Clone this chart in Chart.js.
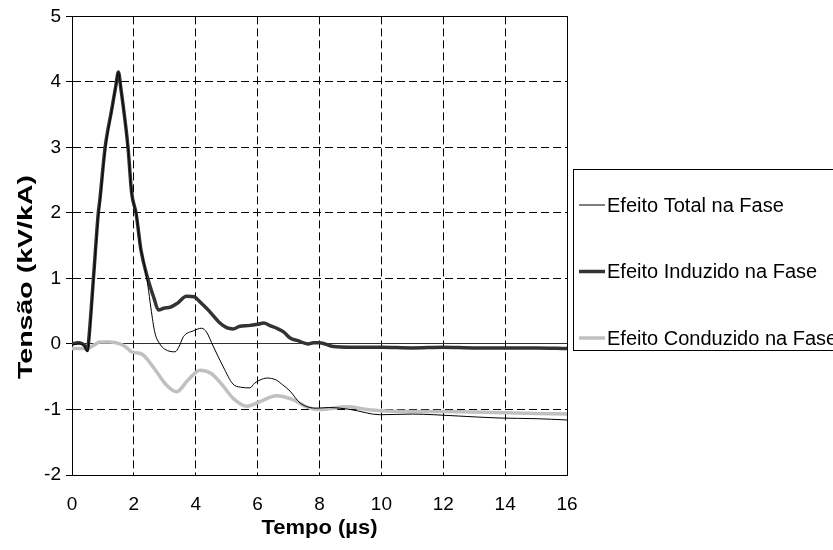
<!DOCTYPE html>
<html><head><meta charset="utf-8">
<script src="https://cdn.jsdelivr.net/npm/chart.js@4.4.0/dist/chart.umd.min.js"></script>
<style>html,body{margin:0;padding:0;background:#fff}#wrap{width:833px;height:550px}</style>
</head><body><div id="wrap"><canvas id="c" width="833" height="550"></canvas></div>
<script>
// ---- data ----
const seriesNames = ['Efeito Total na Fase', 'Efeito Induzido na Fase', 'Efeito Conduzido na Fase'];
const xTitle = 'Tempo (\u00b5s)';
const yTitle = 'Tens\u00e3o (kV/kA)';
const xTicks = [0, 2, 4, 6, 8, 10, 12, 14, 16];
const yTicks = [-2, -1, 0, 1, 2, 3, 4, 5];

const tInduzido = [0, 0.2, 0.4, 0.5, 0.53, 0.7, 0.85, 0.9, 1.07, 1.28, 1.42, 1.5, 1.58, 1.81, 1.93, 2.07, 2.23, 2.46, 2.65, 2.79, 3.0, 3.17, 3.4, 3.7, 3.95, 4.14, 4.4, 4.78, 5.0, 5.2, 5.43, 5.7, 6.0, 6.2, 6.4, 6.62, 6.85, 7.05, 7.3, 7.63, 7.8, 8.0, 8.45, 9, 10, 11, 12, 13, 14, 15, 16];
const vInduzido = [0, 0.02, -0.02, -0.1, 0, 1.05, 2.0, 2.2, 3.0, 3.57, 3.95, 4.15, 3.9, 3.0, 2.3, 2.0, 1.43, 0.98, 0.7, 0.52, 0.55, 0.56, 0.62, 0.73, 0.72, 0.64, 0.52, 0.32, 0.25, 0.23, 0.27, 0.28, 0.3, 0.32, 0.28, 0.24, 0.18, 0.09, 0.05, 0.0, 0.02, 0.02, -0.04, -0.05, -0.05, -0.06, -0.05, -0.06, -0.06, -0.06, -0.07];

const tTotal = [0, 0.2, 0.4, 0.5, 0.53, 0.7, 0.85, 0.9, 1.07, 1.28, 1.42, 1.5, 1.58, 1.81, 1.93, 2.07, 2.23, 2.3, 2.45, 2.55, 2.68, 2.84, 3.0, 3.33, 3.45, 3.6, 3.92, 4.19, 4.35, 4.56, 4.89, 5.2, 5.45, 5.75, 5.9, 6.08, 6.3, 6.6, 6.8, 7.05, 7.37, 7.9, 8.3, 9, 9.95, 11, 11.7, 12.5, 13.8, 15, 16];
const vTotal = [-0.02, 0.0, -0.03, -0.12, -0.05, 1.0, 1.95, 2.15, 2.95, 3.55, 3.95, 4.15, 3.9, 3.0, 2.3, 2.0, 1.43, 1.3, 0.9, 0.55, 0.17, 0.0, -0.08, -0.12, -0.05, 0.11, 0.2, 0.24, 0.18, -0.03, -0.35, -0.61, -0.66, -0.67, -0.6, -0.55, -0.52, -0.55, -0.62, -0.72, -0.9, -0.98, -0.97, -1.0, -1.08, -1.07, -1.08, -1.1, -1.13, -1.14, -1.16];

const tConduzido = [0, 0.5, 0.7, 0.9, 1.23, 1.55, 1.75, 1.93, 2.25, 2.62, 3.06, 3.38, 3.75, 4.14, 4.5, 4.85, 5.21, 5.65, 6.08, 6.6, 7.15, 7.58, 8.0, 8.88, 9.52, 9.95, 11, 12, 13, 14, 15, 16];
const vConduzido = [-0.07, -0.07, -0.02, 0.03, 0.03, 0.0, -0.05, -0.12, -0.15, -0.35, -0.63, -0.73, -0.55, -0.4, -0.45, -0.62, -0.83, -0.95, -0.88, -0.79, -0.85, -0.96, -1.0, -0.96, -1.0, -1.02, -1.03, -1.03, -1.04, -1.05, -1.06, -1.07];

// ---- build ----
const pts = (t, v) => t.map((x, i) => ({x: x, y: v[i]}));
const FONT = "'Liberation Sans', Arial, sans-serif";

function stretchedText(ctx, text, x, y, rot, targetWidth) {
  ctx.save();
  ctx.translate(x, y);
  ctx.rotate(rot);
  const w = ctx.measureText(text).width;
  ctx.scale(targetWidth / w, 1);
  ctx.fillText(text, 0, 0);
  ctx.restore();
}

const framePlugin = {
  id: 'frame',
  afterDraw(chart) {
    const ctx = chart.ctx, a = chart.chartArea;
    ctx.save();
    ctx.lineWidth = 1;
    ctx.strokeStyle = '#000';
    ctx.beginPath();
    ctx.moveTo(Math.round(a.left) + 0.5, Math.round(a.top) + 0.5);
    ctx.lineTo(Math.round(a.right) + 0.5, Math.round(a.top) + 0.5);
    ctx.lineTo(Math.round(a.right) + 0.5, Math.round(a.bottom) + 0.5);
    ctx.stroke();

    // axis titles
    ctx.fillStyle = '#000';
    ctx.textAlign = 'center';
    ctx.textBaseline = 'middle';
    ctx.font = 'bold 21px ' + FONT;
    stretchedText(ctx, xTitle, (a.left + a.right) / 2, 528, 0, 116);
    ctx.font = 'bold 20px ' + FONT;
    stretchedText(ctx, yTitle, 26, 277, -Math.PI / 2, 204);

    // legend
    const bx = 573.5, by = 169.5;
    ctx.fillStyle = '#fff';
    ctx.fillRect(bx, by, 300, 181);
    ctx.strokeStyle = '#000';
    ctx.lineWidth = 1;
    ctx.strokeRect(bx, by, 300, 181);
    ctx.font = '20px ' + FONT;
    ctx.textAlign = 'left';
    ctx.textBaseline = 'middle';
    chart.data.datasets.forEach((ds, i) => {
      const y = 205 + i * 66.5;
      ctx.strokeStyle = ds.borderColor;
      ctx.lineWidth = ds.borderWidth;
      ctx.beginPath();
      ctx.moveTo(579, y);
      ctx.lineTo(605, y);
      ctx.stroke();
      ctx.fillStyle = '#000';
      ctx.fillText(ds.label, 607, y + 1);
    });
    ctx.restore();
  }
};

new Chart(document.getElementById('c'), {
  type: 'line',
  data: {
    datasets: [
      {label: seriesNames[0], data: pts(tTotal, vTotal), borderColor: '#000000', borderWidth: 1},
      {label: seriesNames[1], data: pts(tInduzido, vInduzido), borderColor: '#333333', borderWidth: 3.5},
      {label: seriesNames[2], data: pts(tConduzido, vConduzido), borderColor: '#c0c0c0', borderWidth: 3.5}
    ]
  },
  options: {
    responsive: false,
    animation: false,
    devicePixelRatio: 1,
    layout: {padding: {left: 0, top: 16, right: 266, bottom: 0}},
    elements: {point: {radius: 0}, line: {cubicInterpolationMode: 'monotone', fill: false}},
    plugins: {legend: {display: false}, tooltip: {enabled: false}},
    scales: {
      x: {
        type: 'linear', min: 0, max: 16,
        afterBuildTicks: s => { s.ticks = xTicks.map(v => ({value: v})); },
        afterFit: s => { s.height = 75; },
        ticks: {color: '#000', font: {size: 19, family: FONT}, padding: 18, maxRotation: 0},
        grid: {color: '#000', lineWidth: 1, drawTicks: false},
        border: {color: '#000', width: 1, dash: c => (c.type === 'tick' ? [8, 4] : [])}
      },
      y: {
        type: 'linear', min: -2, max: 5,
        afterBuildTicks: s => { s.ticks = yTicks.map(v => ({value: v})); },
        afterFit: s => { s.width = 72; },
        ticks: {color: '#000', font: {size: 19, family: FONT}, padding: 5},
        grid: {
          color: c => (c.tick && c.tick.value === 0 ? '#303030' : '#000'),
          lineWidth: 1, drawTicks: true, tickLength: 6, tickBorderDash: [], tickColor: '#000'
        },
        border: {color: '#000', width: 1, dash: c => (c.type === 'tick' && c.tick.value !== 0 ? [8, 4] : [])}
      }
    }
  },
  plugins: [framePlugin]
});
</script>
</body></html>
